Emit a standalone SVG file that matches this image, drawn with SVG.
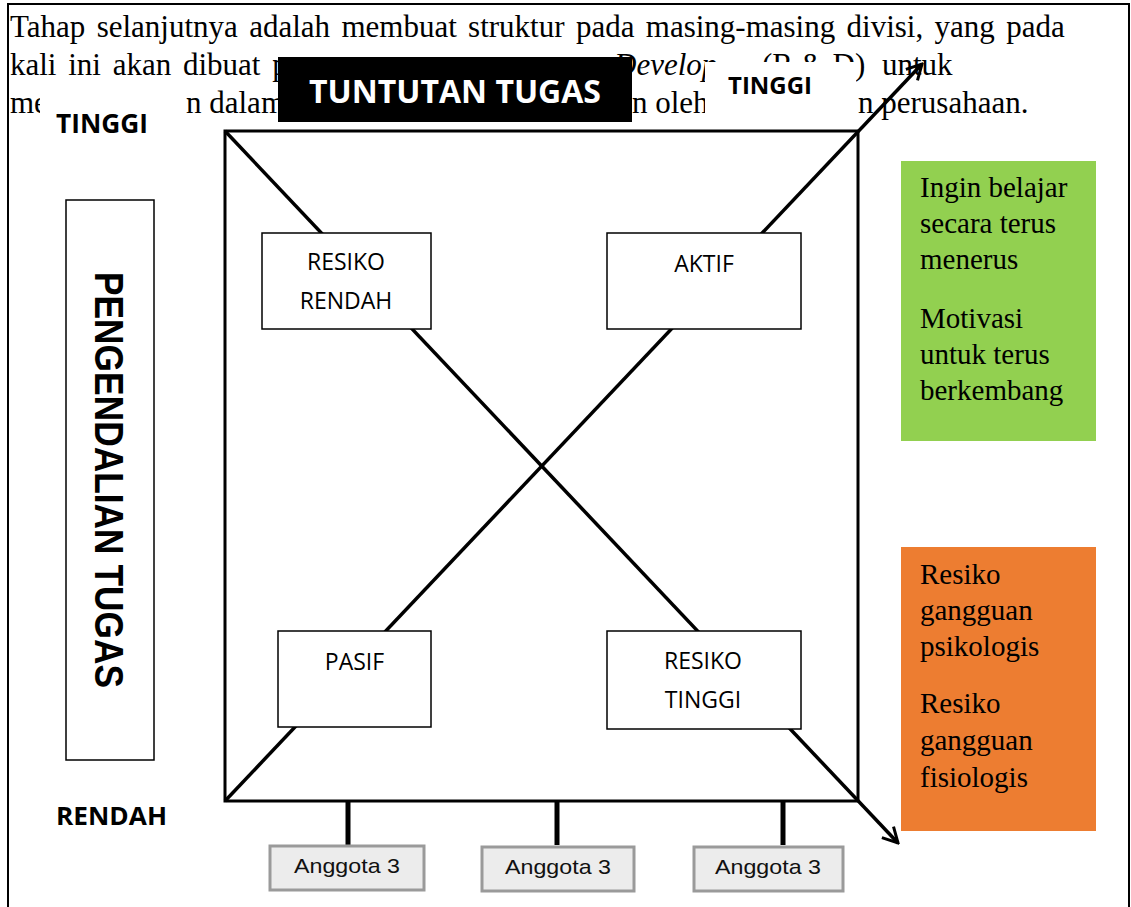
<svg xmlns="http://www.w3.org/2000/svg" width="1131" height="907" viewBox="0 0 1131 907">
<defs>
<style>
.bg{font-family:"Liberation Serif","Times New Roman",serif;font-size:31px;fill:#000}
.it{font-style:italic}
.lbl{font-family:"Open Sans",sans-serif;font-weight:bold;fill:#000}
.box{fill:#fff;stroke:#000;stroke-width:1.5}
.boxt{font-family:"Open Sans",sans-serif;font-size:23px;fill:#000;text-anchor:middle}
.side{font-family:"Liberation Serif","Times New Roman",serif;font-size:29px;fill:#000}
.ang{fill:#ececec;stroke:#9a9a9a;stroke-width:3}
.angt{font-family:"Liberation Sans",Arial,sans-serif;font-size:21px;fill:#111;text-anchor:middle}
.ln{stroke:#000;fill:none}
.occ{fill:#fff}
</style>
<marker id="arr" viewBox="0 0 20 20" refX="18" refY="10" markerWidth="20" markerHeight="20" markerUnits="userSpaceOnUse" orient="auto">
<path d="M3,2 L18,10 L3,18" fill="none" stroke="#000" stroke-width="3"/>
</marker>
</defs>
<rect width="1131" height="907" fill="#fff"/>
<g id="page">
<path class="ln" d="M8,907 V4 H1129 V907" stroke-width="2"/>
</g>
<g id="paragraph">
<text class="bg" x="10" y="37" word-spacing="3.6">Tahap selanjutnya adalah membuat struktur pada masing-masing divisi, yang pada</text>
<text class="bg" x="10" y="75" word-spacing="4">kali ini akan dibuat p</text>
<text class="bg it" x="614" y="75">Develop</text>
<text class="bg" x="762" y="75">(R &amp; D)</text>
<text class="bg" x="882" y="75">untuk</text>
<text class="bg" x="10" y="113">me</text>
<text class="bg" x="186" y="113">n dalam</text>
<text class="bg" x="632" y="113">n oleh</text>
<text class="bg" x="858" y="113">n perusahaan.</text>
</g>
<g id="occluders">
<rect class="occ" x="40" y="86" width="146" height="60"/>
<rect class="occ" x="705" y="62" width="151" height="56"/>
</g>
<g id="title-top">
<rect x="278" y="57" width="354" height="65" fill="#000"/>
<text class="lbl" x="455" y="103" font-size="32" style="fill:#fff" text-anchor="middle" textLength="292" lengthAdjust="spacingAndGlyphs">TUNTUTAN TUGAS</text>
</g>
<g id="label-tinggi-top">
<text class="lbl" x="728" y="94" font-size="24" textLength="84" lengthAdjust="spacingAndGlyphs">TINGGI</text>
</g>
<g id="label-tinggi-left">
<text class="lbl" x="56" y="133" font-size="26" textLength="92" lengthAdjust="spacingAndGlyphs">TINGGI</text>
</g>
<g id="label-rendah">
<text class="lbl" x="56" y="825" font-size="25" textLength="111" lengthAdjust="spacingAndGlyphs">RENDAH</text>
</g>
<g id="title-left">
<rect x="66" y="200" width="88" height="560" fill="#fff" stroke="#000" stroke-width="1.5"/>
<text transform="translate(95,480) rotate(90)" x="0" y="0" text-anchor="middle" font-family="'Liberation Sans',Arial,sans-serif" font-weight="bold" font-size="40" textLength="416" lengthAdjust="spacingAndGlyphs">PENGENDALIAN TUGAS</text>
</g>
<g id="connectors">
<rect class="ln" x="225" y="131" width="633" height="670" stroke-width="3"/>
<line class="ln" x1="225" y1="131" x2="898" y2="843" stroke-width="3.5" marker-end="url(#arr)"/>
<line class="ln" x1="225" y1="801" x2="922" y2="64" stroke-width="3.5" marker-end="url(#arr)"/>
<line class="ln" x1="348" y1="801" x2="348" y2="845" stroke-width="5"/>
<line class="ln" x1="557" y1="801" x2="557" y2="845" stroke-width="5"/>
<line class="ln" x1="783" y1="801" x2="783" y2="845" stroke-width="5"/>
</g>
<g id="resiko-rendah">
<rect class="box" x="262" y="233" width="169" height="96"/>
<text class="boxt" x="346" y="270">RESIKO</text>
<text class="boxt" x="346" y="309">RENDAH</text>
</g>
<g id="aktif">
<rect class="box" x="607" y="233" width="194" height="96"/>
<text class="boxt" x="704" y="272">AKTIF</text>
</g>
<g id="pasif">
<rect class="box" x="278" y="631" width="153" height="96"/>
<text class="boxt" x="354.5" y="670">PASIF</text>
</g>
<g id="resiko-tinggi">
<rect class="box" x="607" y="631" width="194" height="98"/>
<text class="boxt" x="703" y="669">RESIKO</text>
<text class="boxt" x="703" y="708">TINGGI</text>
</g>
<g id="green-box">
<rect x="901" y="161" width="195" height="280" fill="#92d050"/>
<text class="side" x="920" y="197">Ingin belajar</text>
<text class="side" x="920" y="233">secara terus</text>
<text class="side" x="920" y="269">menerus</text>
<text class="side" x="920" y="328">Motivasi</text>
<text class="side" x="920" y="364">untuk terus</text>
<text class="side" x="920" y="400">berkembang</text>
</g>
<g id="orange-box">
<rect x="901" y="547" width="195" height="284" fill="#ed7d31"/>
<text class="side" x="920" y="584">Resiko</text>
<text class="side" x="920" y="620">gangguan</text>
<text class="side" x="920" y="656">psikologis</text>
<text class="side" x="920" y="713">Resiko</text>
<text class="side" x="920" y="750">gangguan</text>
<text class="side" x="920" y="787">fisiologis</text>
</g>
<g id="anggota-1">
<rect class="ang" x="270" y="846" width="154" height="44"/>
<text class="angt" x="347" y="873" textLength="106" lengthAdjust="spacingAndGlyphs">Anggota 3</text>
</g>
<g id="anggota-2">
<rect class="ang" x="482" y="847" width="152" height="44"/>
<text class="angt" x="558" y="874" textLength="106" lengthAdjust="spacingAndGlyphs">Anggota 3</text>
</g>
<g id="anggota-3">
<rect class="ang" x="694" y="847" width="149" height="44"/>
<text class="angt" x="768" y="874" textLength="106" lengthAdjust="spacingAndGlyphs">Anggota 3</text>
</g>
</svg>
